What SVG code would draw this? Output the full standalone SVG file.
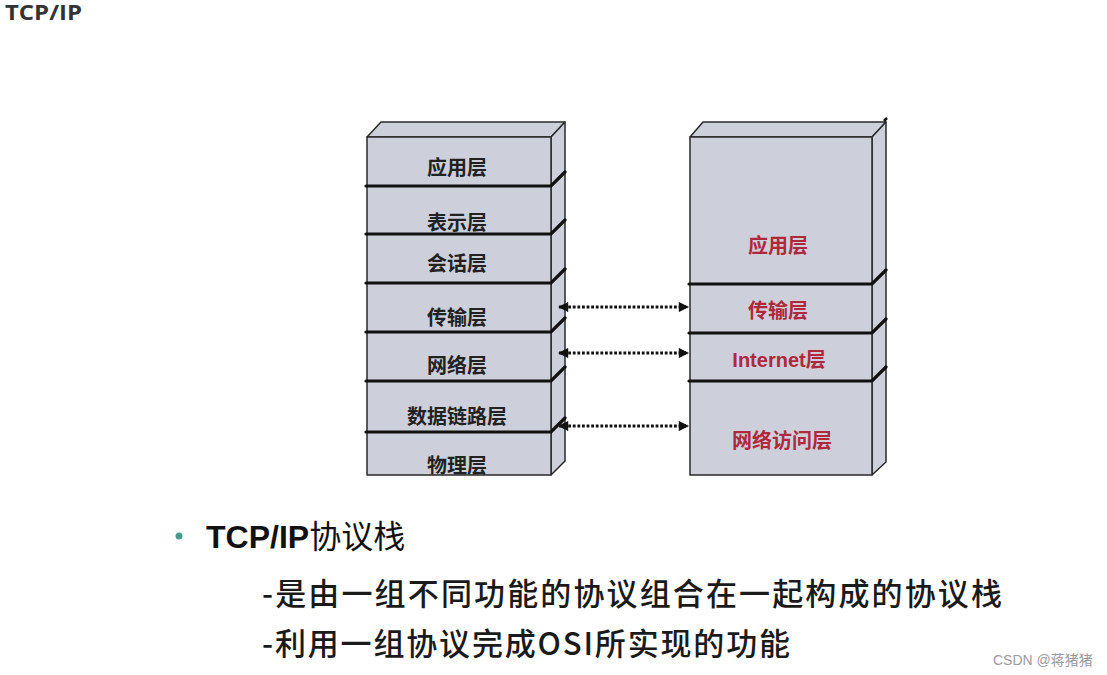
<svg xmlns="http://www.w3.org/2000/svg" width="1107" height="675" viewBox="0 0 1107 675">
<defs>
<style>
.face{fill:#cdd0da;stroke:#2a2a2a;stroke-width:1.5;stroke-linejoin:round}
.div{stroke:#111;stroke-width:3.2;fill:none;stroke-linecap:round}
.lt{font-family:"Noto Sans CJK SC","Liberation Sans",sans-serif;font-size:20px;font-weight:bold;fill:#222;text-anchor:middle}
.rt{font-family:"Liberation Sans","Noto Sans CJK SC",sans-serif;font-size:20px;font-weight:bold;fill:#b0283c;text-anchor:middle}
.arr{stroke:#111;stroke-width:3.2;stroke-dasharray:2.8 1.8;fill:none}
.body{font-family:"Noto Sans CJK SC",sans-serif;font-size:31px;font-weight:500;fill:#1a1a1a}
</style>
<marker id="ah" viewBox="0 0 10 10" refX="9" refY="5" markerWidth="3.6" markerHeight="3.2" orient="auto-start-reverse" markerUnits="strokeWidth">
<path d="M0,0 L10,5 L0,10 z" fill="#111"/>
</marker>
</defs>
<rect width="1107" height="675" fill="#ffffff"/>
<text x="5" y="20" font-family="'Open Sans','Liberation Sans',sans-serif" font-weight="bold" font-size="21" fill="#333" textLength="77" lengthAdjust="spacingAndGlyphs">TCP/IP</text>

<g id="osi-stack">
<polygon class="face" points="367,137 381,122 565,122 551,137"/>
<polygon class="face" points="551,137 565,122 565,461 551,475"/>
<rect class="face" x="367" y="137" width="184" height="338"/>
<path class="div" d="M366,186 H551 L565,172 M366,234 H551 L565,220 M366,283 H551 L565,269 M366,332 H551 L565,318 M366,381 H551 L565,367 M366,432 H551 L565,418"/>
<text class="lt" x="457" y="175">应用层</text>
<text class="lt" x="457" y="230">表示层</text>
<text class="lt" x="457" y="271">会话层</text>
<text class="lt" x="457" y="325">传输层</text>
<text class="lt" x="457" y="373">网络层</text>
<text class="lt" x="457" y="424">数据链路层</text>
<text class="lt" x="457" y="473">物理层</text>
</g>

<g id="tcpip-stack">
<polygon class="face" points="690,137 703,122 886,122 872,137"/>
<polygon class="face" points="872,137 886,122 886,462 872,475"/>
<rect class="face" x="690" y="137" width="182" height="338"/>
<path class="div" d="M689,284 H872 L886,270 M689,333 H872 L886,319 M689,381 H872 L886,367"/>
<path d="M884,121 L887,118" stroke="#111" stroke-width="2.5"/>
<text class="rt" x="778" y="253" font-family="'Noto Sans CJK SC',sans-serif">应用层</text>
<text class="rt" x="778" y="318" font-family="'Noto Sans CJK SC',sans-serif">传输层</text>
<text class="rt" x="779" y="367">Internet<tspan font-family="'Noto Sans CJK SC',sans-serif">层</tspan></text>
<text class="rt" x="782" y="448" font-family="'Noto Sans CJK SC',sans-serif">网络访问层</text>
</g>

<g id="connectors">
<line class="arr" x1="559" y1="307" x2="688" y2="307" marker-start="url(#ah)" marker-end="url(#ah)"/>
<line class="arr" x1="559" y1="353" x2="688" y2="353" marker-start="url(#ah)" marker-end="url(#ah)"/>
<line class="arr" x1="559" y1="426" x2="688" y2="426" marker-start="url(#ah)" marker-end="url(#ah)"/>
</g>

<g id="notes">
<circle cx="179" cy="536" r="3.5" fill="#4a9a8c"/>
<text x="206" y="548" font-size="32" fill="#111"><tspan font-family="'Liberation Sans',sans-serif" font-weight="bold">TCP/IP</tspan><tspan font-family="'Noto Sans CJK SC',sans-serif">协议栈</tspan></text>
<text class="body" x="262" y="605" textLength="740" lengthAdjust="spacing">-是由一组不同功能的协议组合在一起构成的协议栈</text>
<text class="body" x="262" y="655" textLength="528" lengthAdjust="spacing">-利用一组协议完成OSI所实现的功能</text>
</g>
<text x="993" y="665" font-family="'Liberation Sans','Noto Sans CJK SC',sans-serif" font-size="14" fill="#9a9a9a">CSDN @蒋猪猪</text>
</svg>
